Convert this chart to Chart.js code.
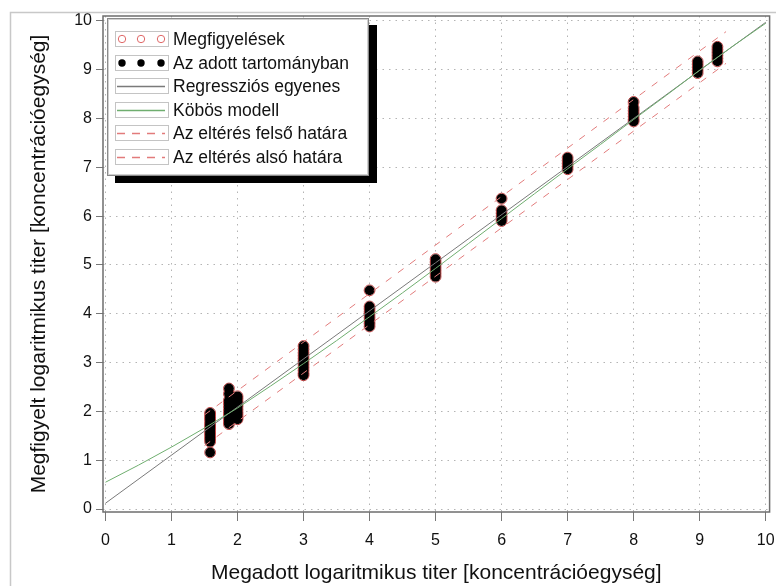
<!DOCTYPE html>
<html>
<head>
<meta charset="utf-8">
<script src="https://cdn.jsdelivr.net/npm/chart.js@4"></script>
<style>
  html, body { margin: 0; padding: 0; background: #fff; }
  #wrap { width: 776px; height: 586px; }
</style>
</head>
<body>
<div id="wrap"><canvas id="chart" width="776" height="586"></canvas></div>
<script>
// tick labels
const xTicks = [0, 1, 2, 3, 4, 5, 6, 7, 8, 9, 10];
const yTicks = [0, 1, 2, 3, 4, 5, 6, 7, 8, 9, 10];

// observations, grouped by given titer (x)
const obsX = [1.585, 1.87, 2, 3, 4, 5, 6, 7, 8, 8.97, 9.27];
const obsY = [
  [1.97, 1.93, 1.88, 1.84, 1.79, 1.74, 1.70, 1.66, 1.61, 1.56, 1.52, 1.47, 1.43, 1.38, 1.16],
  [2.47, 2.36, 2.23, 2.18, 2.12, 2.06, 2.00, 1.95, 1.90, 1.84, 1.79, 1.74],
  [2.31, 2.26, 2.20, 2.15, 2.10, 2.04, 1.98, 1.93, 1.88, 1.84],
  [3.34, 3.27, 3.20, 3.14, 3.08, 3.02, 2.96, 2.90, 2.84, 2.78, 2.74],
  [4.48, 4.15, 4.10, 4.04, 3.98, 3.92, 3.86, 3.80, 3.74],
  [5.12, 5.06, 5.00, 4.94, 4.88, 4.82, 4.76],
  [6.36, 6.12, 6.06, 6.00, 5.95, 5.90],
  [7.20, 7.14, 7.08, 7.02, 6.96],
  [8.34, 8.22, 8.16, 8.10, 8.04, 7.98, 7.94],
  [9.17, 9.11, 9.05, 8.99, 8.93],
  [9.47, 9.41, 9.35, 9.29, 9.23, 9.17]
];

// regression line
const regX = [0, 10];
const regY = [0.12, 9.97];

// cubic model
const cubicX = [0, 0.5, 1, 1.5, 2, 2.5, 3, 3.5, 4, 4.5, 5, 5.5, 6, 6.5, 7, 7.5, 8, 8.5, 9, 9.5, 10];
const cubicY = [0.55, 0.90, 1.27, 1.66, 2.07, 2.52, 2.98, 3.45, 3.94, 4.43, 4.93, 5.44, 5.95, 6.46, 6.97, 7.47, 7.98, 8.48, 8.99, 9.48, 9.95];

// tolerance limits
const upperX = [1.5, 9.4];
const upperY = [1.93, 9.78];
const lowerX = [1.5, 9.4];
const lowerY = [1.30, 9.13];

const FONT = "'Liberation Sans', Arial, sans-serif";
const pairs = (xs, ys) => xs.map((x, i) => ({ x, y: ys[i] }));
const obsPoints = obsX.flatMap((x, i) => obsY[i].map((y) => ({ x, y })));

const legendRows = [
  { label: "Megfigyelések", kind: "hollow", color: "#e06868" },
  { label: "Az adott tartományban", kind: "filled", color: "#000" },
  { label: "Regressziós egyenes", kind: "line", color: "#7a7a7a" },
  { label: "Köbös modell", kind: "line", color: "#6fae6f" },
  { label: "Az eltérés felső határa", kind: "dash", color: "#e27b7b" },
  { label: "Az eltérés alsó határa", kind: "dash", color: "#e27b7b" }
];

const framePlugin = {
  id: "frame",
  afterDraw(chart) {
    const { ctx, chartArea: a } = chart;
    ctx.save();
    // outer light frame
    ctx.strokeStyle = "#c8c8c8";
    ctx.lineWidth = 1.5;
    ctx.beginPath();
    ctx.moveTo(10.5, 590);
    ctx.lineTo(10.5, 12.5);
    ctx.lineTo(780, 12.5);
    ctx.stroke();
    // plot frame
    ctx.strokeStyle = "#6e6e6e";
    ctx.lineWidth = 1.5;
    ctx.strokeRect(a.left, a.top, a.right - a.left, a.bottom - a.top);

    // legend with shadow
    const lx = 107, ly = 18, lw = 262, lh = 158;
    ctx.fillStyle = "#000";
    ctx.fillRect(lx + 8, ly + 7, lw, lh);
    ctx.fillStyle = "#fff";
    ctx.fillRect(lx, ly, lw, lh);
    ctx.strokeStyle = "#8a8a8a";
    ctx.lineWidth = 1;
    ctx.strokeRect(lx + 0.5, ly + 0.5, lw - 1, lh - 1);
    ctx.strokeStyle = "#d0d0d0";
    ctx.strokeRect(lx + 1.5, ly + 1.5, lw - 3, lh - 3);

    legendRows.forEach((r, i) => {
      const cy = Math.round(39 + i * 23.6);
      ctx.strokeStyle = "#c4c4c4";
      ctx.lineWidth = 1;
      ctx.strokeRect(115.5, cy - 7.5, 53, 15);
      if (r.kind === "hollow" || r.kind === "filled") {
        [122, 141, 161].forEach((px) => {
          ctx.beginPath();
          ctx.arc(px, cy, 3.7, 0, Math.PI * 2);
          if (r.kind === "filled") {
            ctx.fillStyle = r.color;
            ctx.fill();
          } else {
            ctx.strokeStyle = r.color;
            ctx.stroke();
          }
        });
      } else {
        ctx.strokeStyle = r.color;
        ctx.lineWidth = 1.3;
        ctx.setLineDash(r.kind === "dash" ? [8, 7] : []);
        ctx.beginPath();
        ctx.moveTo(117, cy + 0.5);
        ctx.lineTo(165, cy + 0.5);
        ctx.stroke();
        ctx.setLineDash([]);
      }
      ctx.fillStyle = "#111";
      ctx.font = "17.5px " + FONT;
      ctx.textBaseline = "middle";
      ctx.textAlign = "left";
      ctx.fillText(r.label, 173, cy + 1);
    });
    ctx.restore();
  }
};

new Chart(document.getElementById("chart"), {
  type: "scatter",
  data: {
    datasets: [
      {
        label: "Regressziós egyenes",
        data: pairs(regX, regY),
        showLine: true,
        borderColor: "#7a7a7a",
        borderWidth: 1,
        pointRadius: 0,
        order: 1
      },
      {
        label: "Köbös modell",
        data: pairs(cubicX, cubicY),
        showLine: true,
        borderColor: "#6fae6f",
        borderWidth: 1,
        pointRadius: 0,
        order: 0
      },
      {
        label: "Az eltérés felső határa",
        data: pairs(upperX, upperY),
        showLine: true,
        borderColor: "#e27b7b",
        borderWidth: 1,
        borderDash: [7, 8],
        pointRadius: 0,
        order: 2
      },
      {
        label: "Az eltérés alsó határa",
        data: pairs(lowerX, lowerY),
        showLine: true,
        borderColor: "#e27b7b",
        borderWidth: 1,
        borderDash: [7, 8],
        pointRadius: 0,
        order: 2
      },
      {
        label: "Az adott tartományban",
        data: obsPoints,
        pointRadius: 4.9,
        pointBackgroundColor: "#000",
        pointBorderColor: "#000",
        pointBorderWidth: 0,
        order: 4
      },
      {
        label: "Megfigyelések",
        data: obsPoints,
        pointRadius: 5.4,
        pointBackgroundColor: "rgba(0,0,0,0)",
        pointBorderColor: "#c04040",
        pointBorderWidth: 1,
        order: 5
      }
    ]
  },
  options: {
    responsive: false,
    animation: false,
    events: [],
    layout: { padding: { top: 16, right: 5, left: 0, bottom: 0 } },
    plugins: { legend: { display: false }, tooltip: { enabled: false } },
    scales: {
      x: {
        type: "linear",
        min: -0.038,
        max: 10.06,
        afterBuildTicks: (s) => { s.ticks = xTicks.map((v) => ({ value: v })); },
        afterFit: (s) => { s.height = 74; s.paddingLeft = 0; s.paddingRight = 0; },
        grid: { color: "#b4b4b4", lineWidth: 1, tickLength: 9, tickColor: "#777", tickWidth: 1 },
        border: { display: false, dash: [1.5, 5] },
        ticks: { font: { family: FONT, size: 16 }, color: "#111", padding: 10, maxRotation: 0 },
        title: {
          display: true,
          text: "Megadott logaritmikus titer [koncentrációegység]",
          font: { family: FONT, size: 21 },
          color: "#111",
          padding: { top: 0, bottom: 0 }
        }
      },
      y: {
        type: "linear",
        min: -0.06,
        max: 10.1,
        afterBuildTicks: (s) => { s.ticks = yTicks.map((v) => ({ value: v })); },
        afterFit: (s) => { s.width = 103; s.paddingTop = 0; s.paddingBottom = 0; },
        grid: { color: "#b4b4b4", lineWidth: 1, tickLength: 7, tickColor: "#777", tickWidth: 1 },
        border: { display: false, dash: [1.5, 5] },
        ticks: { font: { family: FONT, size: 16 }, color: "#111", padding: 4 },
        title: {
          display: true,
          text: "Megfigyelt logaritmikus titer [koncentrációegység]",
          font: { family: FONT, size: 21 },
          color: "#111",
          padding: { top: 27, bottom: 0 }
        }
      }
    }
  },
  plugins: [framePlugin]
});
</script>
</body>
</html>
